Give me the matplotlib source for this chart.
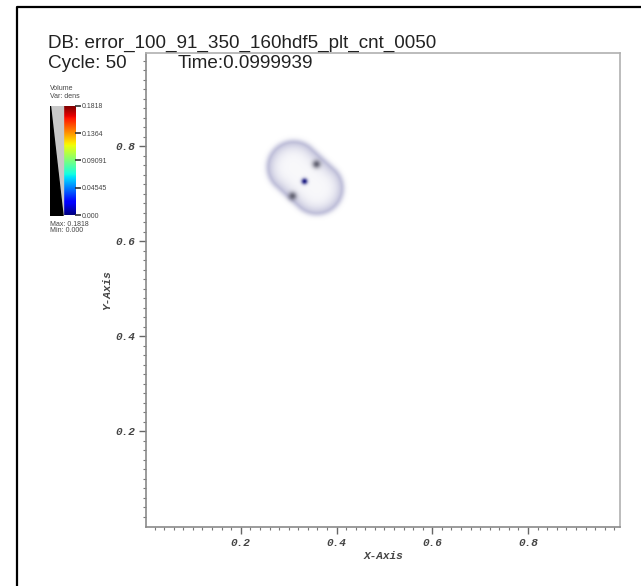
import numpy as np
import matplotlib
matplotlib.use("Agg")
import matplotlib.pyplot as plt

# figure / axes geometry in pixels (VisIt style window)
W, H = 641, 586

# the density blob: two overlapping lobes (data coords)
lobe_a = [0.3104, 0.7558]
lobe_b = [0.3584, 0.7115]
lobe_radius = 0.0510
# small dense spots inside the blob
spot_x = [0.358, 0.308, 0.333]
spot_y = [0.762, 0.695, 0.726]
spot_size = [0.0060, 0.0060, 0.0045]
spot_rgb = [(0.40, 0.40, 0.46), (0.40, 0.40, 0.46), (0.10, 0.10, 0.50)]

# legend values
bar_ticks = [0.0, 0.04545, 0.09091, 0.1364, 0.1818]
bar_labels = ["0.000", "0.04545", "0.09091", "0.1364", "0.1818"]
var_max, var_min = "0.1818", "0.000"

db_name = "DB: error_100_91_350_160hdf5_plt_cnt_0050"
cycle_text = "Cycle: 50"
time_text = "Time:0.0999939"

xticks = [0.2, 0.4, 0.6, 0.8]
yticks = [0.2, 0.4, 0.6, 0.8]

tick_font = dict(family="Liberation Mono", weight="bold", style="italic", size=8)


def px_rect(x0, y0, x1, y1):
    return [x0 / W, 1 - y1 / H, (x1 - x0) / W, (y1 - y0) / H]


fig = plt.figure(figsize=(W / 100, H / 100), dpi=100)

# outer window frame
frame = fig.add_axes([0, 0, 1, 1])
frame.set_xlim(0, W)
frame.set_ylim(H, 0)
frame.axis("off")
frame.plot([17, 17, W], [H, 7, 7], color="black", lw=1.6)

ax = fig.add_axes(px_rect(146, 53, 620, 527))
ax.set_xlim(0.002, 0.992)
ax.set_ylim(-0.002, 0.996)

# build the rendered blob
n = 300
gx = np.linspace(0.22, 0.45, n)
gy = np.linspace(0.62, 0.85, n)
X, Y = np.meshgrid(gx, gy)
ax_, ay_ = lobe_a
bx_, by_ = lobe_b
dx, dy = bx_ - ax_, by_ - ay_
t = np.clip(((X - ax_) * dx + (Y - ay_) * dy) / (dx * dx + dy * dy), 0, 1)
dist = np.hypot(X - (ax_ + t * dx), Y - (ay_ + t * dy)) / lobe_radius

rim = np.array([0.66, 0.66, 0.80])
inside = 0.08 + 0.62 * np.clip(dist, 0, 1) ** 3.5
outside = 0.70 * np.exp(-((dist - 1) / 0.16) ** 2)
alpha = np.where(dist <= 1, inside, outside)
rgba = np.ones((n, n, 4))
rgba[..., :3] = rim
rgba[..., 3] = np.clip(alpha, 0, 1)

for sx, sy, ss, sc in zip(spot_x, spot_y, spot_size, spot_rgb):
    g = np.exp(-((X - sx) ** 2 + (Y - sy) ** 2) / (2 * ss ** 2))
    a0 = rgba[..., 3]
    new_a = g + a0 * (1 - g)
    for k in range(3):
        rgba[..., k] = (sc[k] * g + rgba[..., k] * a0 * (1 - g)) / np.maximum(new_a, 1e-6)
    rgba[..., 3] = new_a

ax.imshow(rgba, extent=[gx[0], gx[-1], gy[0], gy[-1]], origin="lower",
          interpolation="bilinear", zorder=1)
ax.set_aspect("auto")

for s in ax.spines.values():
    s.set_color("#8a8a8a")
    s.set_linewidth(1.2)
ax.spines["top"].set_color("#b0b0b0")
ax.spines["right"].set_color("#b0b0b0")

ax.set_xticks(xticks)
ax.set_yticks(yticks)
ax.set_xticklabels([f"{v:.1f}" for v in xticks], fontdict=tick_font, color="#444444")
ax.set_yticklabels([f"{v:.1f}" for v in yticks], fontdict=tick_font, color="#444444")
ax.set_xticks(np.arange(0.02, 0.99, 0.02), minor=True)
ax.set_yticks(np.arange(0.02, 0.99, 0.02), minor=True)
ax.tick_params(which="major", direction="out", length=5, width=1, color="#666666", pad=3)
ax.tick_params(which="minor", direction="out", length=2.5, width=0.8, color="#777777")
ax.set_xlabel("X-Axis", fontdict=tick_font, color="#444444", labelpad=2)
ax.set_ylabel("Y-Axis", fontdict=tick_font, color="#444444", labelpad=2)

# header text
hdr = dict(family="Liberation Sans", size=13.6, va="baseline", ha="left", color="#222222")
fig.text(48 / W, 1 - 48 / H, db_name, **hdr)
fig.text(48 / W, 1 - 68 / H, cycle_text, **hdr)
fig.text(178 / W, 1 - 68 / H, time_text, **hdr)

# legend: opacity ramp + color bar
vmax = float(var_max)
cax = fig.add_axes(px_rect(50, 106, 75, 215))
ramp = np.linspace(0, vmax, 256).reshape(-1, 1)
cax.imshow(ramp, extent=[0.5, 1, 0, vmax], origin="lower", cmap="jet",
           aspect="auto")
cax.fill_between([0, 0.5], [0, 0], [vmax, vmax], color="#c8c8c8")
cax.fill_between([0, 0.5], [vmax, 0], [0, 0], color="black")
cax.set_xlim(0, 1)
cax.set_ylim(0, vmax)
cax.set_xticks([])
cax.yaxis.tick_right()
cax.set_yticks(bar_ticks)
cax.set_yticklabels(bar_labels, family="Liberation Sans", size=5, color="#444444")
cax.tick_params(axis="y", length=4, width=1.2, color="#333333", pad=1)
for s in cax.spines.values():
    s.set_visible(False)

leg = dict(family="Liberation Sans", size=5, color="#444444", va="center")
fig.text(50 / W, 1 - 88 / H, "Volume", **leg)
fig.text(50 / W, 1 - 96 / H, "Var: dens", **leg)
fig.text(50 / W, 1 - 224 / H, "Max: " + var_max, **leg)
fig.text(50 / W, 1 - 231 / H, "Min: " + var_min, **leg)

fig.savefig("out.png", dpi=100)
